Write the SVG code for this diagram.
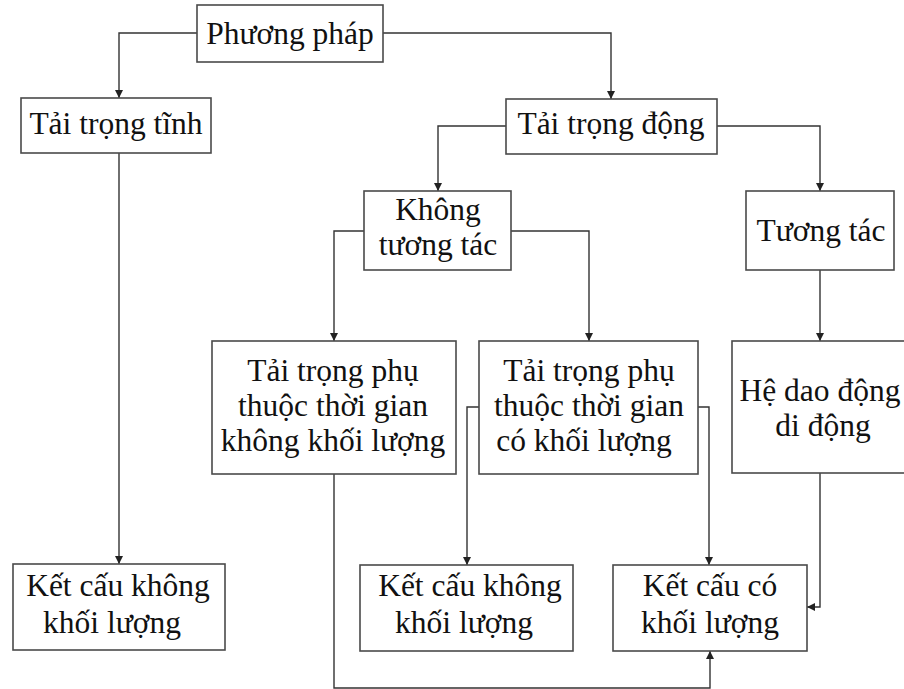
<svg xmlns="http://www.w3.org/2000/svg" width="904" height="689" viewBox="0 0 904 689">
<style>
.box{fill:#fff;stroke:#4a4a4a;stroke-width:1.6}
.t{font-family:"Liberation Serif","Times New Roman",serif;font-size:31.5px;fill:#111;text-anchor:middle}
.c{fill:none;stroke:#333;stroke-width:1.4;marker-end:url(#ah)}
</style>
<defs>
<marker id="ah" markerUnits="userSpaceOnUse" markerWidth="8" markerHeight="12" viewBox="0 0 8 12" refX="8" refY="6" orient="auto">
<path d="M0,2 L8,6 L0,10 Z" fill="#222"/>
</marker>
</defs>
<rect width="904" height="689" fill="#fff"/>
<g id="connectors">
<path class="c" d="M197,33 H119 V98"/>
<path class="c" d="M383,33 H611 V99"/>
<path class="c" d="M119,153 V564"/>
<path class="c" d="M506,126 H438 V191"/>
<path class="c" d="M717,126 H820 V191"/>
<path class="c" d="M364,231 H334 V341"/>
<path class="c" d="M511,231 H589 V341"/>
<path class="c" d="M820,270 V341"/>
<path class="c" d="M820,473 V607 H807"/>
<path class="c" d="M479,407 H467 V565"/>
<path class="c" d="M698,407 H709 V565"/>
<path class="c" d="M334,474 V688 H710 V651"/>
</g>
<g id="phuong-phap">
<rect class="box" x="197" y="5" width="186" height="57"/>
<text class="t" x="290" y="44">Phương pháp</text>
</g>
<g id="tai-trong-tinh">
<rect class="box" x="21" y="98" width="190" height="55"/>
<text class="t" x="116" y="134">Tải trọng tĩnh</text>
</g>
<g id="tai-trong-dong">
<rect class="box" x="506" y="99" width="211" height="55"/>
<text class="t" x="611" y="134">Tải trọng động</text>
</g>
<g id="khong-tuong-tac">
<rect class="box" x="364" y="191" width="147" height="79"/>
<text class="t" x="438" y="220">Không</text>
<text class="t" x="438" y="255">tương tác</text>
</g>
<g id="tuong-tac">
<rect class="box" x="746" y="191" width="148" height="79"/>
<text class="t" x="821" y="241">Tương tác</text>
</g>
<g id="ttpt-khong">
<rect class="box" x="212" y="341" width="244" height="133"/>
<text class="t" x="333" y="381">Tải trọng phụ</text>
<text class="t" x="333" y="416">thuộc thời gian</text>
<text class="t" x="333" y="451">không khối lượng</text>
</g>
<g id="ttpt-co">
<rect class="box" x="479" y="341" width="219" height="133"/>
<text class="t" x="589" y="381">Tải trọng phụ</text>
<text class="t" x="589" y="416">thuộc thời gian</text>
<text class="t" x="584" y="451">có khối lượng</text>
</g>
<g id="he-dao-dong">
<rect class="box" x="732" y="341" width="180" height="132"/>
<text class="t" x="820" y="401">Hệ dao động</text>
<text class="t" x="823" y="436">di động</text>
</g>
<g id="kc-khong-trai">
<rect class="box" x="13" y="564" width="212" height="86"/>
<text class="t" x="118" y="596">Kết cấu không</text>
<text class="t" x="112" y="633">khối lượng</text>
</g>
<g id="kc-khong-giua">
<rect class="box" x="360" y="565" width="213" height="86"/>
<text class="t" x="470" y="596">Kết cấu không</text>
<text class="t" x="464" y="633">khối lượng</text>
</g>
<g id="kc-co">
<rect class="box" x="613" y="565" width="194" height="86"/>
<text class="t" x="710" y="596">Kết cấu có</text>
<text class="t" x="710" y="633">khối lượng</text>
</g>
</svg>
